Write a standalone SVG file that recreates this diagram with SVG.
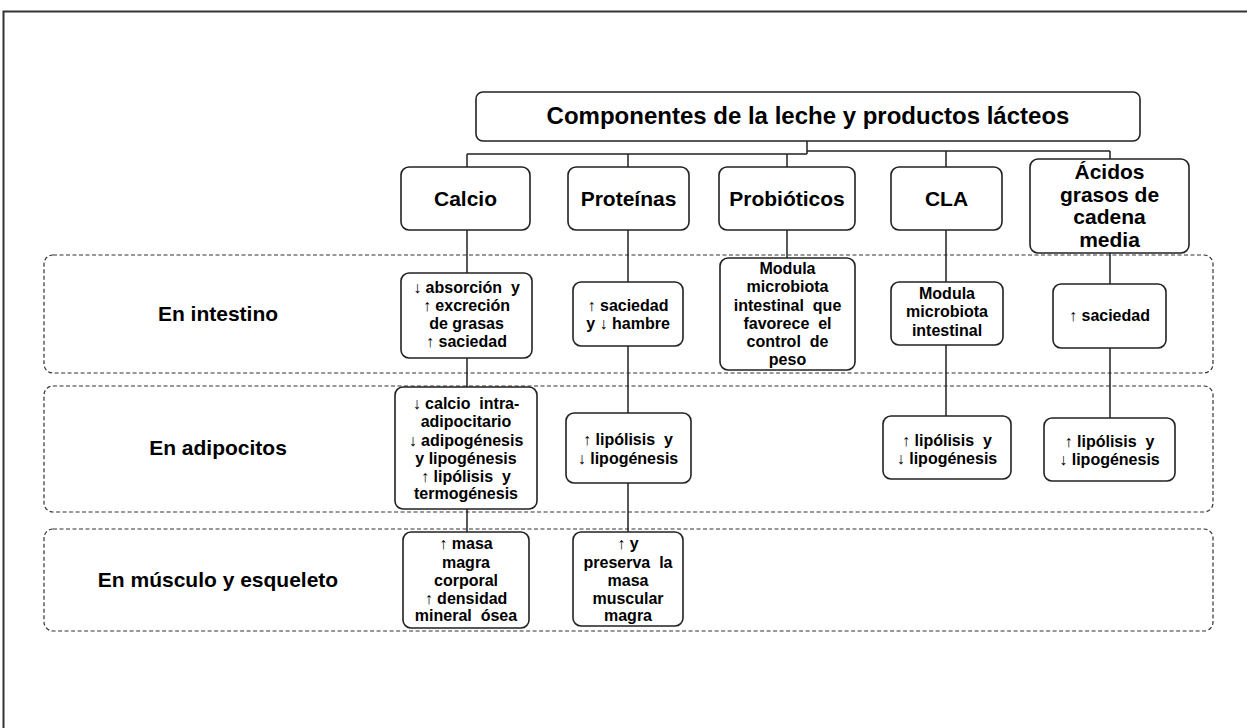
<svg xmlns="http://www.w3.org/2000/svg" width="1247" height="728" viewBox="0 0 1247 728">
<style>
.node rect{fill:#fff;stroke:#222;stroke-width:1.6}
.band{fill:none;stroke:#333;stroke-width:1.2;stroke-dasharray:4 2.5}
.t{font-family:"Liberation Sans",Arial,sans-serif;font-weight:bold;fill:#000;text-anchor:middle;white-space:pre}
.s{font-size:16px}
.m{font-size:21px}
.conn path{fill:none;stroke:#222;stroke-width:1.5}
</style>
<rect x="0" y="0" width="1247" height="728" fill="#fff"/>
<rect x="3.5" y="11.5" width="1400" height="900" fill="none" stroke="#333" stroke-width="2"/>

<g id="bands">
<rect class="band" x="44" y="255" width="1169" height="118" rx="9"/>
<rect class="band" x="44" y="386" width="1169" height="126" rx="9"/>
<rect class="band" x="44" y="529" width="1169" height="102" rx="9"/>
<text class="t m" x="218" y="321">En intestino</text>
<text class="t m" x="218" y="455">En adipocitos</text>
<text class="t m" x="218" y="587">En músculo y esqueleto</text>
</g>

<g class="conn" id="connectors">
<path d="M807,141 V154 M467,154 H807 M807,151 H1110"/>
<path d="M467,154 V167 M628,154 V167 M787,154 V167 M946,151 V167 M1110,151 V159"/>
<path d="M467,230 V273 M467,358 V387 M467,509 V532"/>
<path d="M628,230 V282 M628,346 V413 M628,483 V532"/>
<path d="M787,230 V258"/>
<path d="M946,230 V282 M946,345 V416"/>
<path d="M1110,253 V284 M1110,348 V418"/>
</g>

<g class="node" id="root">
<rect x="476" y="92" width="664" height="49" rx="7"/>
<text class="t" style="font-size:24px" x="808" y="124">Componentes de la leche y productos lácteos</text>
</g>

<g class="node" id="calcio">
<rect x="401" y="167" width="129" height="63" rx="8"/>
<text class="t m" x="465.5" y="206">Calcio</text>
</g>
<g class="node" id="proteinas">
<rect x="568" y="167" width="121" height="63" rx="8"/>
<text class="t m" x="628.5" y="206">Proteínas</text>
</g>
<g class="node" id="probioticos">
<rect x="719" y="167" width="136" height="63" rx="8"/>
<text class="t m" x="787" y="206">Probióticos</text>
</g>
<g class="node" id="cla">
<rect x="891" y="167" width="111" height="63" rx="8"/>
<text class="t m" x="946.5" y="206">CLA</text>
</g>
<g class="node" id="acidos">
<rect x="1030" y="159" width="159" height="94" rx="8"/>
<text class="t m" x="1109.5" y="179">Ácidos</text>
<text class="t m" x="1109.5" y="201.5">grasos de</text>
<text class="t m" x="1109.5" y="224">cadena</text>
<text class="t m" x="1109.5" y="246.5">media</text>
</g>

<g class="node" id="calcio-intestino">
<rect x="401" y="273" width="131" height="85" rx="8"/>
<text class="t s" x="466.5" y="293">↓ absorción  y</text>
<text class="t s" x="466.5" y="311">↑ excreción</text>
<text class="t s" x="466.5" y="329">de grasas</text>
<text class="t s" x="466.5" y="347">↑ saciedad</text>
</g>
<g class="node" id="proteinas-intestino">
<rect x="573" y="282" width="110" height="64" rx="8"/>
<text class="t s" x="628" y="311">↑ saciedad</text>
<text class="t s" x="628" y="329">y ↓ hambre</text>
</g>
<g class="node" id="probioticos-intestino">
<rect x="720" y="258" width="135" height="112" rx="8"/>
<text class="t s" x="787.5" y="274">Modula</text>
<text class="t s" x="787.5" y="292">microbiota</text>
<text class="t s" x="787.5" y="310.5">intestinal  que</text>
<text class="t s" x="787.5" y="329">favorece  el</text>
<text class="t s" x="787.5" y="347">control  de</text>
<text class="t s" x="787.5" y="365">peso</text>
</g>
<g class="node" id="cla-intestino">
<rect x="891" y="282" width="112" height="63" rx="8"/>
<text class="t s" x="947" y="299">Modula</text>
<text class="t s" x="947" y="317">microbiota</text>
<text class="t s" x="947" y="335.5">intestinal</text>
</g>
<g class="node" id="acidos-intestino">
<rect x="1053" y="284" width="113" height="64" rx="8"/>
<text class="t s" x="1109.5" y="321">↑ saciedad</text>
</g>

<g class="node" id="calcio-adipocitos">
<rect x="395" y="387" width="142" height="122" rx="8"/>
<text class="t s" x="466" y="409">↓ calcio  intra-</text>
<text class="t s" x="466" y="427">adipocitario</text>
<text class="t s" x="466" y="445.5">↓ adipogénesis</text>
<text class="t s" x="466" y="463.5">y lipogénesis</text>
<text class="t s" x="466" y="481.5">↑ lipólisis  y</text>
<text class="t s" x="466" y="499">termogénesis</text>
</g>
<g class="node" id="proteinas-adipocitos">
<rect x="566" y="413" width="125" height="70" rx="8"/>
<text class="t s" x="628" y="445">↑ lipólisis  y</text>
<text class="t s" x="628" y="463.5">↓ lipogénesis</text>
</g>
<g class="node" id="cla-adipocitos">
<rect x="883" y="416" width="128" height="63" rx="8"/>
<text class="t s" x="947" y="446">↑ lipólisis  y</text>
<text class="t s" x="947" y="464">↓ lipogénesis</text>
</g>
<g class="node" id="acidos-adipocitos">
<rect x="1044" y="418" width="131" height="63" rx="8"/>
<text class="t s" x="1109.5" y="447">↑ lipólisis  y</text>
<text class="t s" x="1109.5" y="465">↓ lipogénesis</text>
</g>

<g class="node" id="calcio-musculo">
<rect x="403" y="532" width="126" height="96" rx="8"/>
<text class="t s" x="466" y="549">↑ masa</text>
<text class="t s" x="466" y="567.5">magra</text>
<text class="t s" x="466" y="586">corporal</text>
<text class="t s" x="466" y="604">↑ densidad</text>
<text class="t s" x="466" y="621">mineral  ósea</text>
</g>
<g class="node" id="proteinas-musculo">
<rect x="573" y="532" width="110" height="94" rx="8"/>
<text class="t s" x="628" y="549">↑ y</text>
<text class="t s" x="628" y="567.5">preserva  la</text>
<text class="t s" x="628" y="586">masa</text>
<text class="t s" x="628" y="604">muscular</text>
<text class="t s" x="628" y="621">magra</text>
</g>
</svg>
